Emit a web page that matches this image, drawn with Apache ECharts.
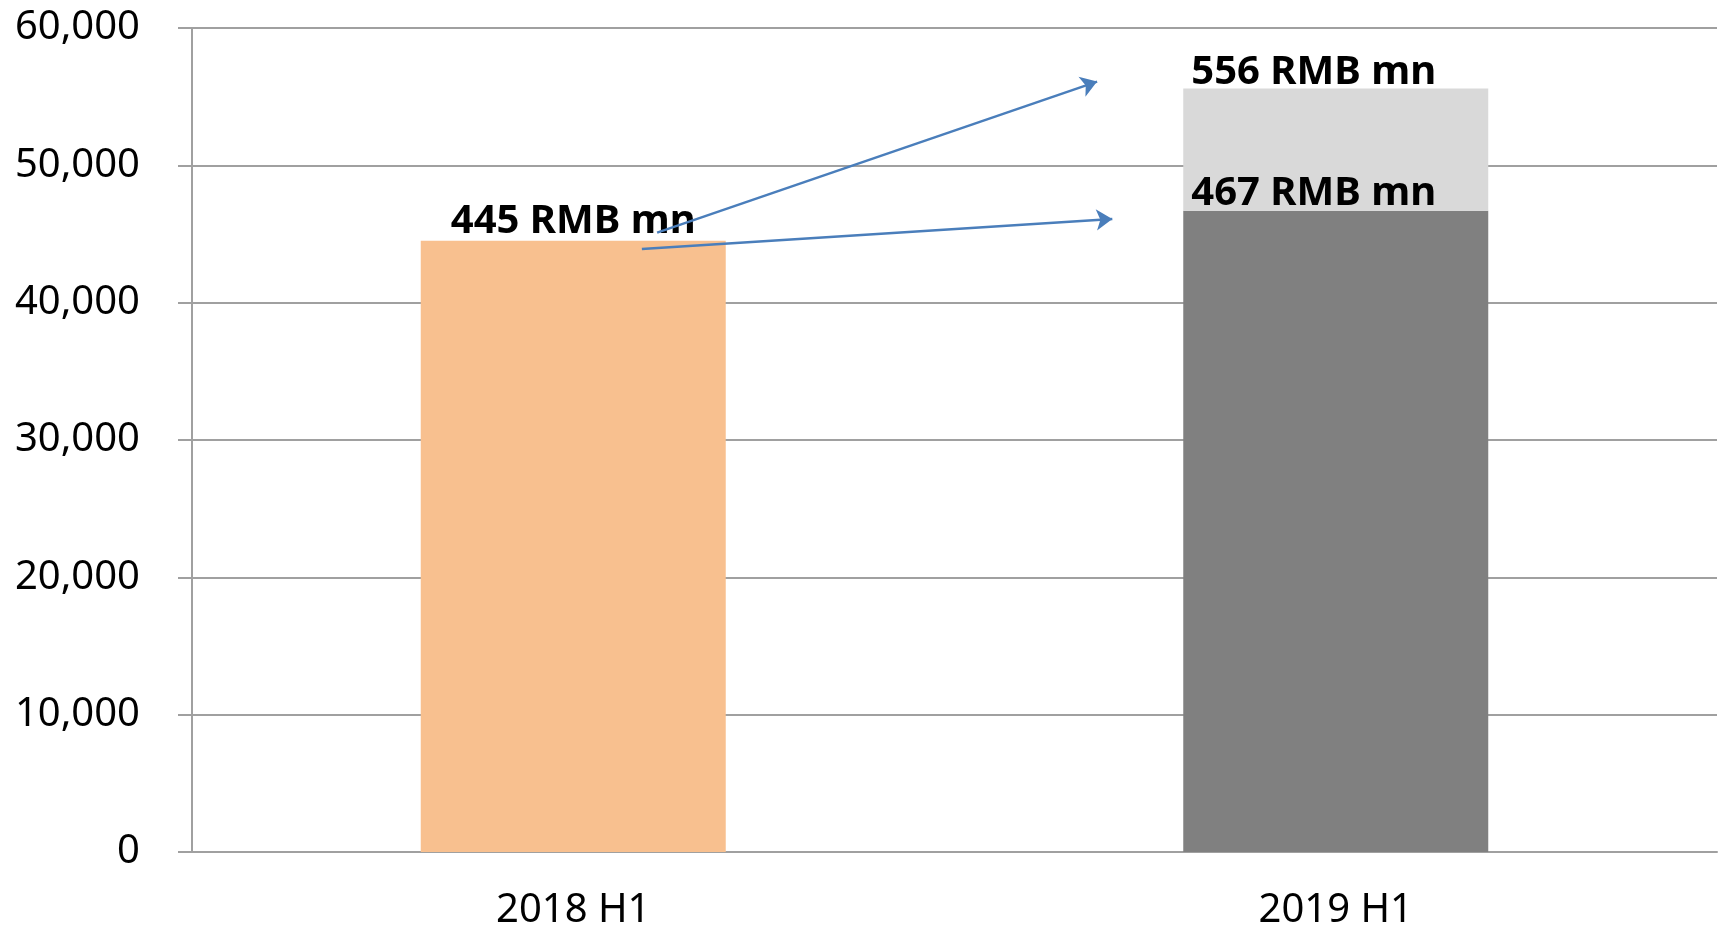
<!DOCTYPE html>
<html>
<head>
<meta charset="utf-8">
<title>RMB mn</title>
<script src="https://cdn.jsdelivr.net/npm/echarts@6/dist/echarts.min.js"></script>
<style>
html,body{margin:0;padding:0;background:#fff;}
#chart{width:1723px;height:931px;}
</style>
</head>
<body>
<div id="chart"></div>
<script>
// data
var categories = ['2018 H1', '2019 H1'];
var firstHalf2018 = [44500, '-'];
var base2019 = ['-', 46700];
var growth2019 = ['-', 8900];
var yTicks = [0, 10000, 20000, 30000, 40000, 50000, 60000];

// arrows, in [category position, value]
var arrowFrom = [[0.61, 45100], [0.59, 43900]];
var arrowTo = [[1.187, 56100], [1.207, 46100]];

var gridColor = '#a0a0a0';
var font = '"Noto Sans", "Open Sans", sans-serif';

function fmt(v) {
	return String(v).replace(/\B(?=(\d{3})+(?!\d))/g, ',');
}
function mn(v) {
	return Math.round(v / 100) + ' RMB mn';
}

var chart = echarts.init(document.getElementById('chart'));

var arrows = [];
for (var i = 0; i < arrowFrom.length; i++) {
	arrows.push({coords: [arrowFrom[i], arrowTo[i]]});
}

var labelStyle = {
	show: true,
	position: 'top',
	distance: 0,
	color: '#000',
	fontFamily: font,
	fontSize: 40,
	fontWeight: 'bold'
};

var opt = {
	animation: false,
	grid: {left: 192, right: 6, top: 28, bottom: 77, containLabel: false},
	xAxis: [{
		type: 'category',
		data: categories,
		axisLine: {lineStyle: {color: gridColor, width: 2}},
		axisTick: {length: 13, lineStyle: {color: gridColor, width: 2}},
		axisLabel: {color: '#000', fontFamily: font, fontSize: 40, margin: 39}
	}, {
		type: 'value',
		min: 0,
		max: 2,
		show: false
	}],
	yAxis: {
		type: 'value',
		min: yTicks[0],
		max: yTicks[yTicks.length - 1],
		interval: yTicks[1] - yTicks[0],
		axisLine: {show: true, lineStyle: {color: gridColor, width: 2}},
		axisTick: {show: true, length: 14, lineStyle: {color: gridColor, width: 2}},
		splitLine: {lineStyle: {color: gridColor, width: 2}},
		axisLabel: {
			color: '#000', fontFamily: font, fontSize: 40, margin: 52,
			formatter: function(v) { return fmt(v); }
		}
	},
	series: [{
		type: 'bar',
		stack: 'total',
		barWidth: '40%',
		data: firstHalf2018,
		itemStyle: {color: '#f8c08f'},
		label: $extend({}, labelStyle, {distance: -1, formatter: function(p) { return mn(p.value); }})
	}, {
		type: 'bar',
		stack: 'total',
		data: base2019,
		itemStyle: {color: '#808080'},
		label: $extend({}, labelStyle, {distance: -3, offset: [-22, 0], formatter: function(p) { return mn(p.value); }})
	}, {
		type: 'bar',
		stack: 'total',
		data: growth2019,
		itemStyle: {color: '#d9d9d9'},
		label: $extend({}, labelStyle, {distance: -4, offset: [-22, 0], formatter: function(p) {
			return mn(base2019[p.dataIndex] + p.value);
		}})
	}, {
		type: 'lines',
		coordinateSystem: 'cartesian2d',
		xAxisIndex: 1,
		yAxisIndex: 0,
		symbol: ['none', 'arrow'],
		symbolSize: 16,
		z: 10,
		lineStyle: {color: '#4a7ebb', width: 2.5, opacity: 1, curveness: 0},
		data: arrows
	}]
};

function $extend(a, b, c) {
	var k;
	for (k in b) a[k] = b[k];
	for (k in c) a[k] = c[k];
	return a;
}

chart.setOption(opt, true);
</script>
</body>
</html>
